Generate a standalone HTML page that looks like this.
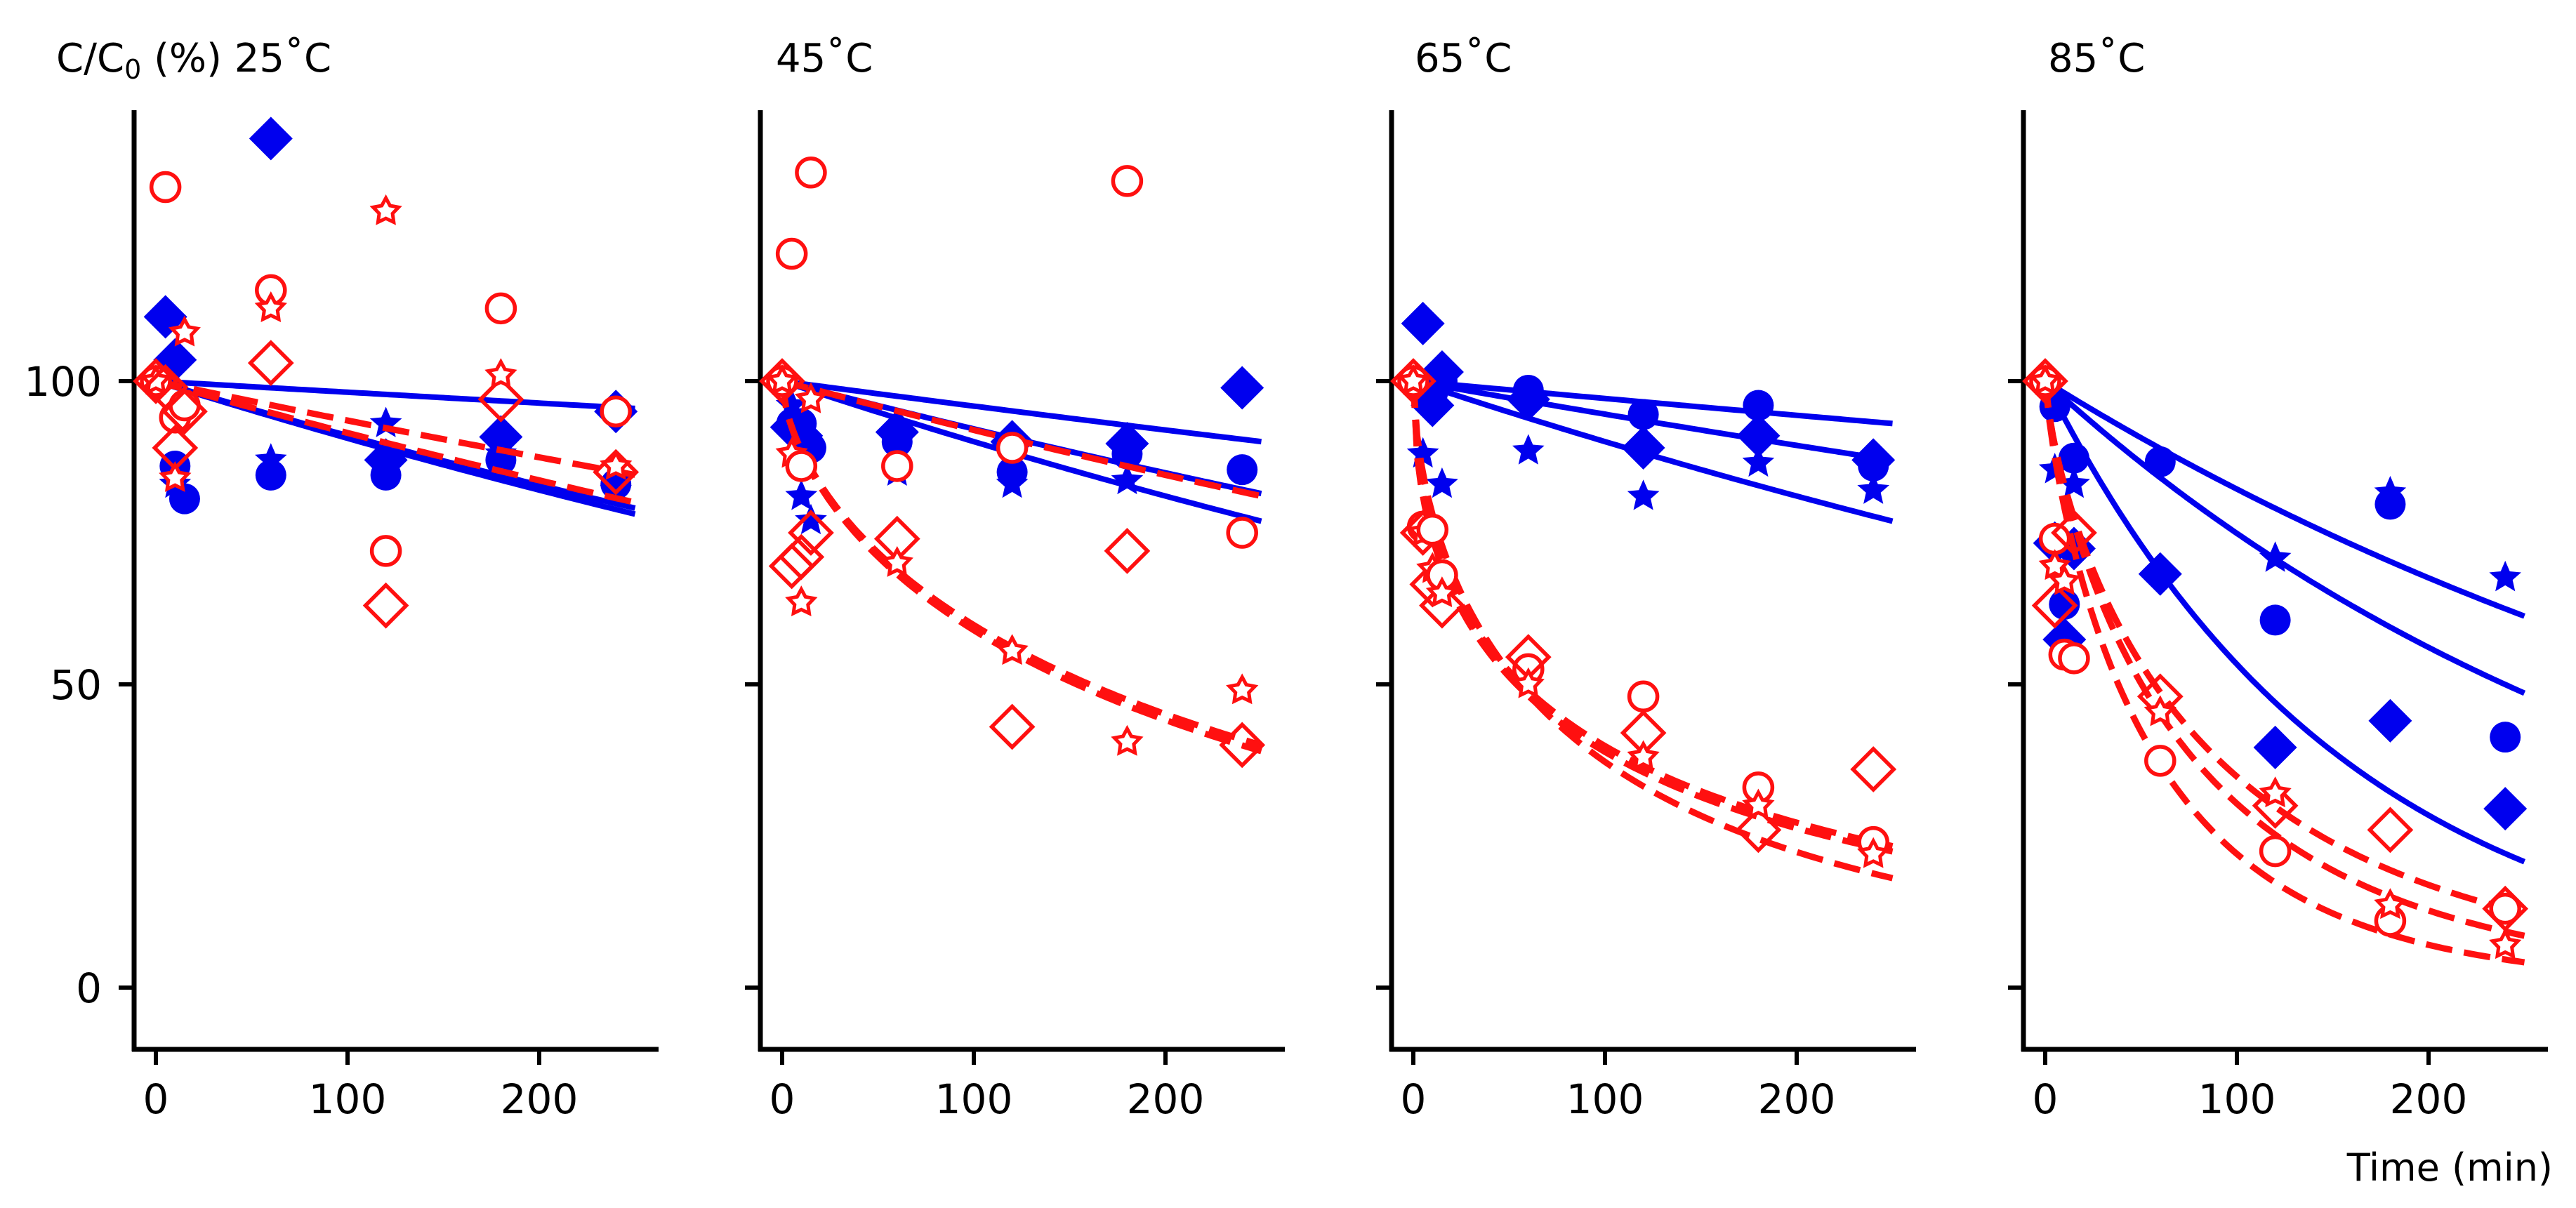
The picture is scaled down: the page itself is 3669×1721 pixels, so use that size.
<!DOCTYPE html>
<html><head><meta charset="utf-8"><style>
html,body{margin:0;padding:0;background:#fff;}
svg{display:block;}
text{font-family:"DejaVu Sans","Liberation Sans",sans-serif;fill:#000;}
</style></head><body>
<svg id="chart" width="3669" height="1721" viewBox="0 0 3669 1721" xmlns="http://www.w3.org/2000/svg">
<text x="80" y="102" font-size="56">C/C<tspan font-size="38" dy="10">0</tspan><tspan dy="-10"> (%) 25˚C</tspan></text>
<text x="1105" y="102" font-size="56">45˚C</text>
<text x="2015" y="102" font-size="56">65˚C</text>
<text x="2917" y="102" font-size="56">85˚C</text>
<text x="3636" y="1682" font-size="54" text-anchor="end">Time (min)</text>
</svg>
<script>
const times = [0, 5, 10, 15, 60, 120, 180, 240];
const xTicks = [0, 100, 200];
const yTicks = [0, 50, 100];
const yTickLabels = ["0", "50", "100"];
// per panel series values (null = not shown)
const blueCircle = [
  [null, null, 86, 80.6, 84.5, 84.5, 87, 83],
  [null, 93, 93, 89, 90, 85, 88, 85.4],
  [null, 99, 98, 100, 98.5, 94.5, 96, 86],
  [null, 95.8, 63.2, 87.3, 86.7, 60.6, 79.7, 41.3]
];
const blueDiamond = [
  [null, 110.6, 103.5, null, 140, 87, 90.8, 95],
  [null, 92.4, 91, null, 91.6, 90, 89.7, 98.9],
  [null, 109.5, 96, 101.5, 97, 89, 91, 87],
  [null, 73.3, 57.4, 72.4, 68.2, 39.6, 44, 29.5]
];
const blueStar = [
  [null, null, 83, null, 87, 93, 88, 82],
  [null, 96, 81, 77, 85, 83, 83.6, null],
  [null, 88, null, 83, 88.5, 81, 86.5, 82],
  [null, 85.4, null, 83, null, 70.8, 81.6, 67.6]
];
const redCircle = [
  [100, 132, 94, 96, 115, 72, 112, 95],
  [100, 121, 86, 134.4, 86, 89, 133, 75],
  [100, 76, 75.5, 68, 52.5, 48, 33, 24],
  [100, 74, 54.9, 54.3, 37.4, 22.5, 11, 13]
];
const redDiamond = [
  [100, 99, 89, 95, 103, 63, 97, 85],
  [100, 69.5, 71, 75, 74, 43, 72, 40],
  [100, 75, 66.5, 63, 54.5, 42, 26, 36],
  [100, 63, null, 75, 48, 30, 26, 13]
];
const redStar = [
  [100, null, 84, 108, 112, 128, 101, 86],
  [100, 88, 63.5, 97, 70, 55.5, 40.5, 49],
  [100, 75, 69, 65, 50, 38, 30, 22],
  [100, 69.5, 67, null, 45.4, 32, 13.6, 7]
];
// Weibull fit parameters: C = 100*exp(-(t/scale)^shape)
const blueFitScale = [
  [5430, 1064, 1010],
  [2380, 1220, 952],
  [3450, 1786, 952],
  [510, 346, 159]
];
const blueFitShape = [[1,1,1],[1,1,1],[1,1,1],[1,1,1]];
const redFitScale = [
  [1490, 1120],
  [1190, 287, 275],
  [118, 112, 102],
  [93, 80, 60]
];
const redFitShape = [
  [1, 1],
  [1, 0.63, 0.63],
  [0.5, 0.5, 0.6],
  [0.75, 0.79, 0.81]
];

const svg = document.getElementById('chart');
const NS = 'http://www.w3.org/2000/svg';
const axisX = [191, 1083, 1982, 2882];
const yTop = 157, yBot = 1495;
function xs(p, t) { return axisX[p] + 31 + t * 2.73; }
function ys(v) { return 1407 - v * 8.64; }
function mk(tag, attrs, parent) {
  const e = document.createElementNS(NS, tag);
  for (const k in attrs) e.setAttribute(k, attrs[k]);
  (parent || svg).appendChild(e);
  return e;
}
function starPts(cx, cy, ro, ri) {
  let s = [];
  for (let i = 0; i < 10; i++) {
    const r = i % 2 ? ri : ro;
    const a = -Math.PI / 2 + i * Math.PI / 5;
    s.push((cx + r * Math.cos(a)).toFixed(1) + ',' + (cy + r * Math.sin(a)).toFixed(1));
  }
  return s.join(' ');
}
for (let p = 0; p < 4; p++) {
  const g = mk('g', {});
  
  
  const ax = axisX[p];
  const ya = mk('line', {x1: ax, y1: yTop, x2: ax, y2: yBot + 3, stroke: '#000', 'stroke-width': 7}, g);
  
  
  const xa = mk('line', {x1: ax - 3, y1: yBot, x2: ax + 747, y2: yBot, stroke: '#000', 'stroke-width': 7}, g);
  
  
  yTicks.forEach((v, i) => {
    const t = mk('line', {x1: ax - 22, y1: ys(v), x2: ax, y2: ys(v), stroke: '#000', 'stroke-width': 6}, g);
    
    
    if (p === 0) {
      const l = mk('text', {x: ax - 46, y: ys(v) + 21, 'font-size': 58, 'text-anchor': 'end'}, g);
      l.textContent = yTickLabels[i];
      
      
    }
  });
  xTicks.forEach(v => {
    const t = mk('line', {x1: xs(p, v), y1: yBot, x2: xs(p, v), y2: yBot + 22, stroke: '#000', 'stroke-width': 6}, g);
    
    
    const l = mk('text', {x: xs(p, v), y: 1586, 'font-size': 58, 'text-anchor': 'middle'}, g);
    l.textContent = String(v);
    
    
  });
  function curve(scale, shape, color, dash, w) {
    let d = '';
    for (let t = 0; t <= 250; t += 2) {
      const v = 100 * Math.exp(-Math.pow(t / scale, shape));
      d += (t ? 'L' : 'M') + xs(p, t).toFixed(1) + ',' + ys(v).toFixed(1);
    }
    const a = {d: d, fill: 'none', stroke: color, 'stroke-width': w};
    if (dash) a['stroke-dasharray'] = dash;
    return mk('path', a, g);
  }
  times.forEach((t, i) => {
    let v = blueCircle[p][i];
    if (v !== null) {
      const c = mk('circle', {cx: xs(p, t), cy: ys(v), r: 22, fill: '#0000ee'}, g);
      
      
    }
    v = blueDiamond[p][i];
    if (v !== null) {
      const x = xs(p, t), y = ys(v), h = 31;
      const c = mk('polygon', {points: `${x},${y - h} ${x + h},${y} ${x},${y + h} ${x - h},${y}`, fill: '#0000ee'}, g);
      
      
    }
    v = blueStar[p][i];
    if (v !== null) {
      const c = mk('polygon', {points: starPts(xs(p, t), ys(v), 24, 11), fill: '#0000ee'}, g);
      
      
    }
  });
  blueFitScale[p].forEach((s, j) => {
    const c = curve(s, blueFitShape[p][j], '#0000ee', null, 8);
    
    
  });
  redFitScale[p].forEach((s, j) => {
    const c = curve(s, redFitShape[p][j], '#ff1010', '38 17', 9);
    
    
  });
  times.forEach((t, i) => {
    let v = redCircle[p][i];
    if (v !== null) {
      const c = mk('circle', {cx: xs(p, t), cy: ys(v), r: 20, fill: '#fff', stroke: '#ff1010', 'stroke-width': 5.5}, g);
      
      
    }
    v = redDiamond[p][i];
    if (v !== null) {
      const x = xs(p, t), y = ys(v), h = 29;
      const c = mk('polygon', {points: `${x},${y - h} ${x + h},${y} ${x},${y + h} ${x - h},${y}`, fill: 'none', stroke: '#ff1010', 'stroke-width': 5.5}, g);
      
      
    }
    v = redStar[p][i];
    if (v !== null) {
      const c = mk('polygon', {points: starPts(xs(p, t), ys(v), 19, 10), fill: '#fff', stroke: '#ff1010', 'stroke-width': 5}, g);
      
      
    }
  });
}
</script>
</body></html>
